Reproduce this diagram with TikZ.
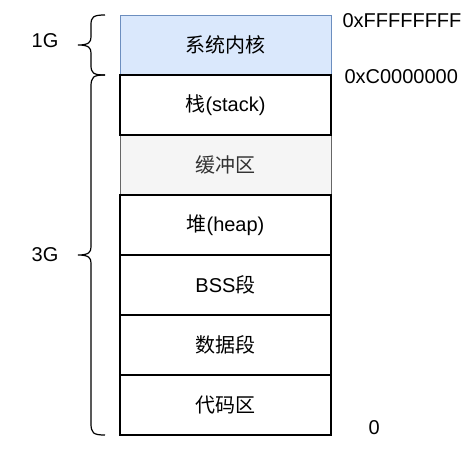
\documentclass[tikz,border=0pt]{standalone}
\usepackage{fontspec}
\setmainfont{Liberation Sans}
\newfontfamily\cjk{Noto Sans CJK SC}
\usepackage{xcolor}
\usepackage{tikz}
\usetikzlibrary{positioning}

\definecolor{kernelfill}{HTML}{DAE8FC}
\definecolor{kerneldraw}{HTML}{6C8EBF}
\definecolor{buffill}{HTML}{F5F5F5}
\definecolor{bufdraw}{HTML}{666666}
\definecolor{buftext}{HTML}{333333}

\tikzset{
    seg/.style={draw, line width=1.2pt, fill=white, minimum width=211pt,
        minimum height=60pt, outer sep=0pt, inner sep=0pt,
        font=\fontsize{20}{24}\selectfont},
    kernelseg/.style={seg, fill=kernelfill, draw=kerneldraw, line width=0.9pt},
    bufseg/.style={seg, fill=buffill, draw=bufdraw, text=buftext, line width=0.9pt},
    addr/.style={anchor=west, font=\fontsize{20}{24}\selectfont},
    size/.style={font=\fontsize{20}{24}\selectfont},
    curly/.style={line width=1.2pt}
}

\begin{document}
\begin{tikzpicture}[x=1pt, y=-1pt]
    \useasboundingbox (0,0) rectangle (468,452);

    % memory segments, top to bottom
    \node[kernelseg, anchor=north west] (kernel) at (120,15) {\cjk 系统内核};
    \node[bufseg, below=60pt of kernel] (buf) {\cjk 缓冲区};
    \node[seg, below=0pt of kernel] (stack) {{\cjk 栈}(stack)};
    \node[seg, below=0pt of buf] (heap) {{\cjk 堆}(heap)};
    \node[seg, below=0pt of heap] (bss) {BSS{\cjk 段}};
    \node[seg, below=0pt of bss] (data) {\cjk 数据段};
    \node[seg, below=0pt of data] (text) {\cjk 代码区};

    % addresses
    \node[addr] (top) at (339,21) {0xFFFFFFFF};
    \node[addr] (split) at (341,77) {0xC0000000};
    \node[addr] (zero) at (365,428) {0};

    % 1G brace
    \draw[curly] (105,15) .. controls (93,15) and (91,17) .. (91,25) -- (91,37)
        .. controls (91,42) and (89,45) .. (78,45)
        .. controls (89,45) and (91,48) .. (91,53) -- (91,65)
        .. controls (91,73) and (93,75) .. (105,75);
    \node[size] (one) at (45,41) {1G};

    % 3G brace
    \draw[curly] (105,75) .. controls (93,75) and (91,77) .. (91,87) -- (91,247)
        .. controls (91,252) and (89,255) .. (78,255)
        .. controls (89,255) and (91,258) .. (91,263) -- (91,423)
        .. controls (91,433) and (93,435) .. (105,435);
    \node[size] (three) at (45,255) {3G};
\end{tikzpicture}
\end{document}
